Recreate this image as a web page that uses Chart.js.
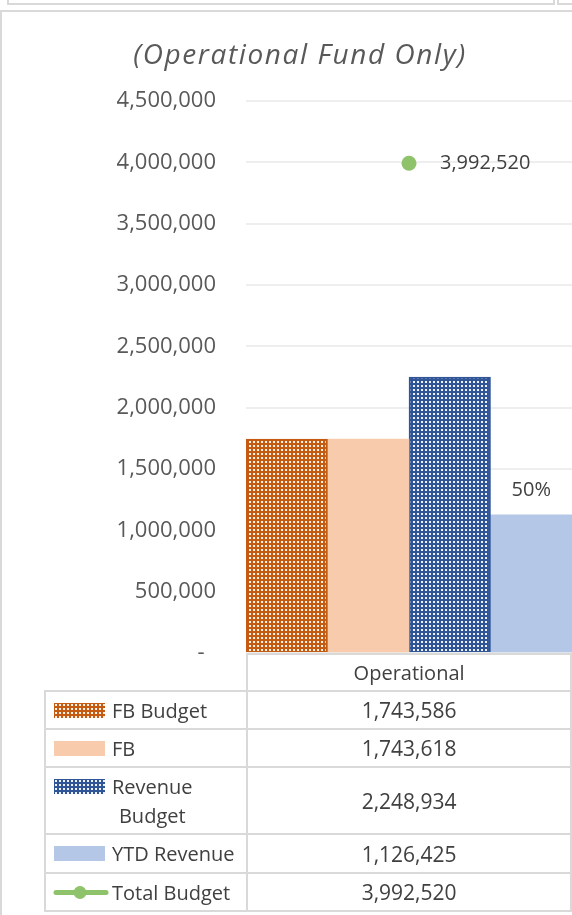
<!DOCTYPE html>
<html>
<head>
<meta charset="utf-8">
<script src="https://cdn.jsdelivr.net/npm/chart.js@4.4.1/dist/chart.umd.min.js"></script>
<style>
  body { margin: 0; background: #fff; overflow: hidden; }
  #wrap { position: relative; width: 572px; height: 915px; overflow: hidden; font-family: "Open Sans", sans-serif; }
  .frame { position: absolute; border: 2px solid #d9d9d9; box-sizing: border-box; }
  #title { position: absolute; left: 0; top: 35px; width: 600px; text-align: center; font-style: italic;
           font-size: 28px; line-height: 36px; letter-spacing: 1.6px; color: #595959; }
  #chart { position: absolute; left: 0; top: 0; }
  #dataTable { position: absolute; left: 44px; top: 653px; border-collapse: collapse; color: #404040; }
  #dataTable td { border: 2px solid #d9d9d9; padding: 0; }
  #dataTable td.blank { border-top: none; border-left: none; }
  .legendCell { display: flex; align-items: flex-start; padding-left: 8px; }
  .legendCell canvas { flex: none; margin-top: 7px; margin-right: 7px; }
  .legendText { font-size: 20px; line-height: 29px; text-align: center; }
  .valueCell { text-align: center; font-size: 21px; vertical-align: middle; }
</style>
</head>
<body>
<div id="wrap">
  <div class="frame" style="left:7px; top:-12px; width:548px; height:17px;"></div>
  <div class="frame" style="left:557px; top:-12px; width:40px; height:17px;"></div>
  <div class="frame" style="left:0; top:10px; width:620px; height:960px;"></div>
  <canvas id="chart" width="572" height="915"></canvas>
  <div id="title">(Operational Fund Only)</div>
  <table id="dataTable"></table>
</div>
<script>
// 데이터
const categories = ['Operational'];
const seriesNames = ['FB Budget', 'FB', 'Revenue Budget', 'YTD Revenue', 'Total Budget'];
const fbBudget = [1743586];
const fb = [1743618];
const revenueBudget = [2248934];
const ytdRevenue = [1126425];
const totalBudget = [3992520];
const yMax = 4500000;
const yStep = 500000;

const orange = '#c55a11';
const peach = '#f8cbad';
const navy = '#2f5597';
const lightBlue = '#b4c7e7';
const green = '#8fc36b';

// 점무늬 패턴
function makePattern(color) {
  const c = document.createElement('canvas');
  c.width = 4;
  c.height = 4;
  const g = c.getContext('2d');
  g.fillStyle = color;
  g.fillRect(0, 0, 4, 4);
  g.fillStyle = 'rgba(255,255,255,0.92)';
  g.fillRect(1, 1, 2, 2);
  return g.createPattern(c, 'repeat');
}

const fmt = (v) => v.toLocaleString('en-US');

// 라벨 그리기 플러그인
const labelPlugin = {
  id: 'labels',
  afterDatasetsDraw(chart) {
    const ctx = chart.ctx;
    ctx.save();
    ctx.font = '20px "Open Sans"';
    ctx.fillStyle = '#404040';
    ctx.textBaseline = 'middle';

    const pt = chart.getDatasetMeta(4).data[0];
    ctx.textAlign = 'left';
    ctx.fillText(fmt(totalBudget[0]), pt.x + 31, pt.y);

    const bar = chart.getDatasetMeta(3).data[0];
    const pct = Math.round(ytdRevenue[0] / revenueBudget[0] * 100) + '%';
    ctx.textAlign = 'center';
    ctx.fillText(pct, bar.x, bar.y - 25);
    ctx.restore();
  }
};

const ctx = document.getElementById('chart').getContext('2d');
const myChart = new Chart(ctx, {
  type: 'bar',
  data: {
    labels: categories,
    datasets: [{
      label: seriesNames[0],
      data: fbBudget,
      backgroundColor: makePattern(orange),
      borderColor: orange,
      borderWidth: 2,
      order: 1
    }, {
      label: seriesNames[1],
      data: fb,
      backgroundColor: peach,
      order: 1
    }, {
      label: seriesNames[2],
      data: revenueBudget,
      backgroundColor: makePattern(navy),
      borderColor: navy,
      borderWidth: 2,
      order: 1
    }, {
      label: seriesNames[3],
      data: ytdRevenue,
      backgroundColor: lightBlue,
      order: 1
    }, {
      type: 'line',
      label: seriesNames[4],
      data: totalBudget,
      borderColor: green,
      backgroundColor: green,
      pointRadius: 7.5,
      pointBorderWidth: 0,
      order: 0
    }]
  },
  options: {
    responsive: false,
    animation: false,
    devicePixelRatio: 1,
    layout: { autoPadding: false, padding: { top: 101, bottom: 262, left: 0, right: 0 } },
    datasets: { bar: { barPercentage: 1, categoryPercentage: 1 } },
    plugins: { legend: { display: false }, tooltip: { enabled: false } },
    scales: {
      x: { display: false },
      y: {
        min: 0,
        max: yMax,
        afterFit(scale) { scale.width = 246; },
        border: { display: false },
        grid: { color: '#eeeeee', lineWidth: 2, drawTicks: false },
        ticks: {
          stepSize: yStep,
          padding: 30,
          color: '#595959',
          font: { family: 'Open Sans', size: 22 },
          callback: (v) => v === 0 ? '-  ' : fmt(v)
        }
      }
    }
  },
  plugins: [labelPlugin]
});

// 데이터 테이블
const seriesValues = [fbBudget, fb, revenueBudget, ytdRevenue, totalBudget];
const keyFills = [makePattern(orange), peach, makePattern(navy), lightBlue, null];
const rowHeights = [38, 38, 67, 39, 38];

function makeKey(i) {
  const c = document.createElement('canvas');
  const g = c.getContext('2d');
  if (keyFills[i] === null) {
    c.width = 56;
    c.height = 15;
    g.strokeStyle = green;
    g.lineWidth = 5;
    g.lineCap = 'round';
    g.beginPath();
    g.moveTo(3, 7.5);
    g.lineTo(53, 7.5);
    g.stroke();
    g.fillStyle = green;
    g.beginPath();
    g.arc(27, 7.5, 6.5, 0, Math.PI * 2);
    g.fill();
    c.style.marginLeft = '-1px';
    c.style.marginRight = '3px';
  } else {
    c.width = 51;
    c.height = 15;
    g.fillStyle = keyFills[i];
    g.fillRect(0, 0, 51, 15);
  }
  return c;
}

const table = document.getElementById('dataTable');
const head = table.insertRow();
head.style.height = '37px';
const blank = head.insertCell();
blank.className = 'blank';
blank.style.width = '202px';
const catCell = head.insertCell();
catCell.className = 'valueCell';
catCell.style.width = '325px';
catCell.style.fontSize = '20px';
catCell.textContent = categories[0];

seriesNames.forEach((name, i) => {
  const row = table.insertRow();
  row.style.height = rowHeights[i] + 'px';
  const nameCell = row.insertCell();
  const box = document.createElement('div');
  box.className = 'legendCell';
  box.appendChild(makeKey(i));
  const txt = document.createElement('div');
  txt.className = 'legendText';
  txt.textContent = name;
  box.appendChild(txt);
  nameCell.appendChild(box);
  const valCell = row.insertCell();
  valCell.className = 'valueCell';
  valCell.textContent = fmt(seriesValues[i][0]);
  // 줄바꿈된 이름은 폭을 줄여서 가운데 정렬
  if (txt.offsetHeight > 30) txt.style.width = 'min-content';
});
</script>
</body>
</html>
